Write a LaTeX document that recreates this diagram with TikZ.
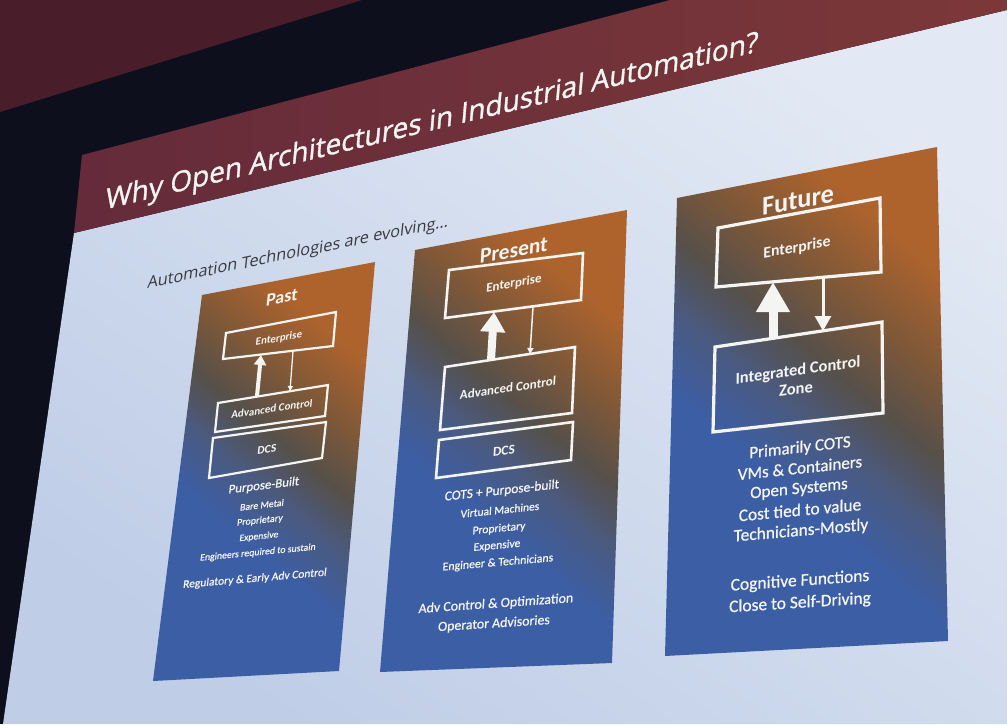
\documentclass[tikz,border=0pt]{standalone}
\usepackage{fontspec}
\setmainfont{Open Sans}
\newfontfamily\titlefont[FakeBold=1.2]{Open Sans}
\newfontfamily\calfont[FakeBold=0.8]{Carlito}
\newfontfamily\calhead{Carlito}
\usetikzlibrary{arrows.meta}
\definecolor{wall}{HTML}{4A1D2B}
\definecolor{frameblk}{HTML}{0D0F1D}
\definecolor{barL}{HTML}{652B3A}
\definecolor{barR}{HTML}{7C3839}
\definecolor{slideA}{HTML}{BFCDE7}
\definecolor{slideB}{HTML}{E2E9F4}
\definecolor{pOr}{HTML}{AE632D}
\definecolor{pOrD}{HTML}{7E5838}
\definecolor{pDk}{HTML}{56504A}
\definecolor{pBlD}{HTML}{4A5A80}
\definecolor{pBl}{HTML}{3C5EA5}
\definecolor{wline}{HTML}{F4F4F2}
\definecolor{subgray}{HTML}{3A3A40}
\pgfdeclareverticalshading{panelgrad}{100bp}{color(0bp)=(pBl); color(25bp)=(pBl); color(40bp)=(pBl); color(48bp)=(pBlD); color(55bp)=(pDk); color(63bp)=(pOrD); color(73bp)=(pOr); color(100bp)=(pOr)}
\tikzset{
  txt/.style={text=wline, inner sep=0pt, font=\calfont},
  wbox/.style={draw=wline, line join=miter},
  uparrow/.style={draw=wline, line cap=butt},
}
% perspective text: #1 extra style, #2 name, #3 x, #4 y, #5 width, #6 text
\newcommand\ptext[6][]{%
  \pgfmathsetmacro\pth{atan2(808-#4,#3+2407)}%
  \pgfmathsetmacro\pca{cos(\pth)}%
  \pgfmathsetmacro\psa{sin(\pth)}%
  \pgfmathsetmacro\pph{atan2(#4+4647,830-#3)}%
  \pgfmathsetmacro\pux{cos(\pph)}%
  \pgfmathsetmacro\puy{sin(\pph)}%
  \node[txt,#1,cm={\pca,\psa,\pux,\puy,(0,0)}] (#2) at (#3,#4) {\resizebox{#5pt}{!}{\raisebox{0pt}[0.66em][0pt]{#6}}};%
}
\begin{document}
\begin{tikzpicture}[x=1pt,y=-1pt]
\useasboundingbox (0,0) rectangle (1007,724);
\clip (0,0) rectangle (1007,724);
% background
\fill[frameblk] (0,0) rectangle (1007,724);
\fill[wall] (0,0) -- (362,0) -- (0,112) -- cycle;
% slide
\coordinate (sb1) at (74,233);
\coordinate (sb2) at (1007,10);
\coordinate (sb3) at (1007,724);
\coordinate (sb4) at (3,724);
\shade[top color=slideB, bottom color=slideA, shading angle=-35] (sb1) -- (sb2) -- (sb3) -- (sb4) -- cycle;
\coordinate (tb1) at (82,155);
\coordinate (tb2) at (670,0);
\coordinate (tb3) at (1007,0);
\shade[left color=barL, right color=barR] (tb1) -- (tb2) -- (tb3) -- (sb2) -- (sb1) -- cycle;
% title texts
\ptext[font=\titlefont]{title}{432}{121}{671}{Why Open Architectures in Industrial Automation?}
\ptext[font=\rmfamily, text=subgray]{subtitle}{298}{252}{307}{Automation Technologies are evolving\ldots}

% ---------- Past panel ----------
\coordinate (pa1) at (202,295); \coordinate (pa2) at (375,262);
\coordinate (pa3) at (339,671); \coordinate (pa4) at (153,681);
\shade[shading=panelgrad, shading angle=-40] (pa1) -- (pa2) -- (pa3) -- (pa4) -- cycle;
\coordinate (pe1) at (226,333); \coordinate (pe2) at (336,312);
\coordinate (pe3) at (333,346); \coordinate (pe4) at (223,359);
\coordinate (pc1) at (218,403); \coordinate (pc2) at (328,385);
\coordinate (pc3) at (325,416); \coordinate (pc4) at (215,432);
\coordinate (pd1) at (213,438); \coordinate (pd2) at (326,422);
\coordinate (pd3) at (322,458); \coordinate (pd4) at (209,478);
\draw[wbox, line width=2.2pt] (pe1) -- (pe2) -- (pe3) -- (pe4) -- cycle;
\draw[wbox, line width=2.2pt] (pc1) -- (pc2) -- (pc3) -- (pc4) -- cycle;
\draw[wbox, line width=2.2pt] (pd1) -- (pd2) -- (pd3) -- (pd4) -- cycle;
\coordinate (paua) at (257,396); \coordinate (paub) at (261,355);
\coordinate (pada) at (293,351); \coordinate (padb) at (290,391);
\draw[uparrow, line width=4pt, -{Triangle[width=12pt,length=10pt]}] (paua) -- (paub);
\draw[uparrow, line width=1.3pt, -{Triangle[width=5pt,length=5pt]}] (pada) -- (padb);
\ptext[font=\calhead\bfseries]{pasth}{282}{297}{32}{Past}
\ptext[font=\calhead\bfseries]{pastent}{279}{338}{47}{Enterprise}
\ptext[font=\calhead\bfseries]{pastadv}{272}{409}{82}{Advanced Control}
\ptext[font=\calhead\bfseries]{pastdcs}{267}{449}{19}{DCS}
\ptext{past1}{264}{485}{71}{Purpose-Built}
\ptext{past2}{262}{505}{44}{Bare Metal}
\ptext{past3}{260}{520}{46}{Proprietary}
\ptext{past4}{259}{536}{39}{Expensive}
\ptext{past5}{258}{552}{116}{Engineers required to sustain}
\ptext{past6}{255}{578}{144}{Regulatory \& Early Adv Control}

% ---------- Present panel ----------
\coordinate (pr1) at (415,250); \coordinate (pr2) at (627,210);
\coordinate (pr3) at (612,663); \coordinate (pr4) at (380,672);
\shade[shading=panelgrad, shading angle=-40] (pr1) -- (pr2) -- (pr3) -- (pr4) -- cycle;
\coordinate (re1) at (449,270); \coordinate (re2) at (583,253);
\coordinate (re3) at (581,300); \coordinate (re4) at (445,318);
\coordinate (rc1) at (445,367); \coordinate (rc2) at (575,347);
\coordinate (rc3) at (572,413); \coordinate (rc4) at (440,430);
\coordinate (rd1) at (439,440); \coordinate (rd2) at (573,422);
\coordinate (rd3) at (571,460); \coordinate (rd4) at (436,478);
\draw[wbox, line width=2.6pt] (re1) -- (re2) -- (re3) -- (re4) -- cycle;
\draw[wbox, line width=2.6pt] (rc1) -- (rc2) -- (rc3) -- (rc4) -- cycle;
\draw[wbox, line width=2.6pt] (rd1) -- (rd2) -- (rd3) -- (rd4) -- cycle;
\coordinate (prua) at (491,360); \coordinate (prub) at (494,312);
\coordinate (prda) at (533,307); \coordinate (prdb) at (530,354);
\draw[uparrow, line width=8pt, -{Triangle[width=24pt,length=20pt]}] (prua) -- (prub);
\draw[uparrow, line width=1.5pt, -{Triangle[width=6pt,length=6pt]}] (prda) -- (prdb);
\ptext[font=\calhead\bfseries]{presh}{514}{250}{69}{Present}
\ptext[font=\calhead\bfseries]{present}{514}{283}{56}{Enterprise}
\ptext[font=\calhead\bfseries]{presadv}{508}{388}{97}{Advanced Control}
\ptext[font=\calhead\bfseries]{presdcs}{504}{451}{22}{DCS}
\ptext{pres1}{502}{490}{115}{COTS + Purpose-built}
\ptext{pres2}{500}{510}{79}{Virtual Machines}
\ptext{pres3}{499}{528}{53}{Proprietary}
\ptext{pres4}{497}{545}{47}{Expensive}
\ptext{pres5}{498}{562}{111}{Engineer \& Technicians}
\ptext{pres6}{496}{603}{155}{Adv Control \& Optimization}
\ptext{pres7}{494}{623}{112}{Operator Advisories}

% ---------- Future panel ----------
\coordinate (fu1) at (677,198); \coordinate (fu2) at (937,147);
\coordinate (fu3) at (948,641); \coordinate (fu4) at (665,656);
\shade[shading=panelgrad, shading angle=-40] (fu1) -- (fu2) -- (fu3) -- (fu4) -- cycle;
\coordinate (fe1) at (718,228); \coordinate (fe2) at (880,198);
\coordinate (fe3) at (881,272); \coordinate (fe4) at (716,287);
\coordinate (fc1) at (715,347); \coordinate (fc2) at (882,322);
\coordinate (fc3) at (883,413); \coordinate (fc4) at (713,432);
\draw[wbox, line width=3.2pt] (fe1) -- (fe2) -- (fe3) -- (fe4) -- cycle;
\draw[wbox, line width=3.2pt] (fc1) -- (fc2) -- (fc3) -- (fc4) -- cycle;
\coordinate (fuua) at (773,338); \coordinate (fuub) at (773,282);
\coordinate (fuda) at (823,277); \coordinate (fudb) at (823,331);
\draw[uparrow, line width=9pt, -{Triangle[width=32pt,length=30pt]}] (fuua) -- (fuub);
\draw[uparrow, line width=3pt, -{Triangle[width=16pt,length=15pt]}] (fuda) -- (fudb);
\ptext[font=\calhead\bfseries]{futh}{798}{200}{73}{Future}
\ptext[font=\calhead\bfseries]{futent}{797}{247}{68}{Enterprise}
\ptext[font=\calhead\bfseries]{futicz1}{798}{370}{126}{Integrated Control}
\ptext[font=\calhead\bfseries]{futicz2}{796}{389}{34}{Zone}
\ptext{fut1}{800}{447}{102}{Primarily COTS}
\ptext{fut2}{800}{468}{125}{VMs \& Containers}
\ptext{fut3}{799}{488}{98}{Open Systems}
\ptext{fut4}{800}{510}{123}{Cost tied to value}
\ptext{fut5}{801}{530}{135}{Technicians-Mostly}
\ptext{fut6}{800}{580}{139}{Cognitive Functions}
\ptext{fut7}{800}{602}{142}{Close to Self-Driving}
\end{tikzpicture}
\end{document}
